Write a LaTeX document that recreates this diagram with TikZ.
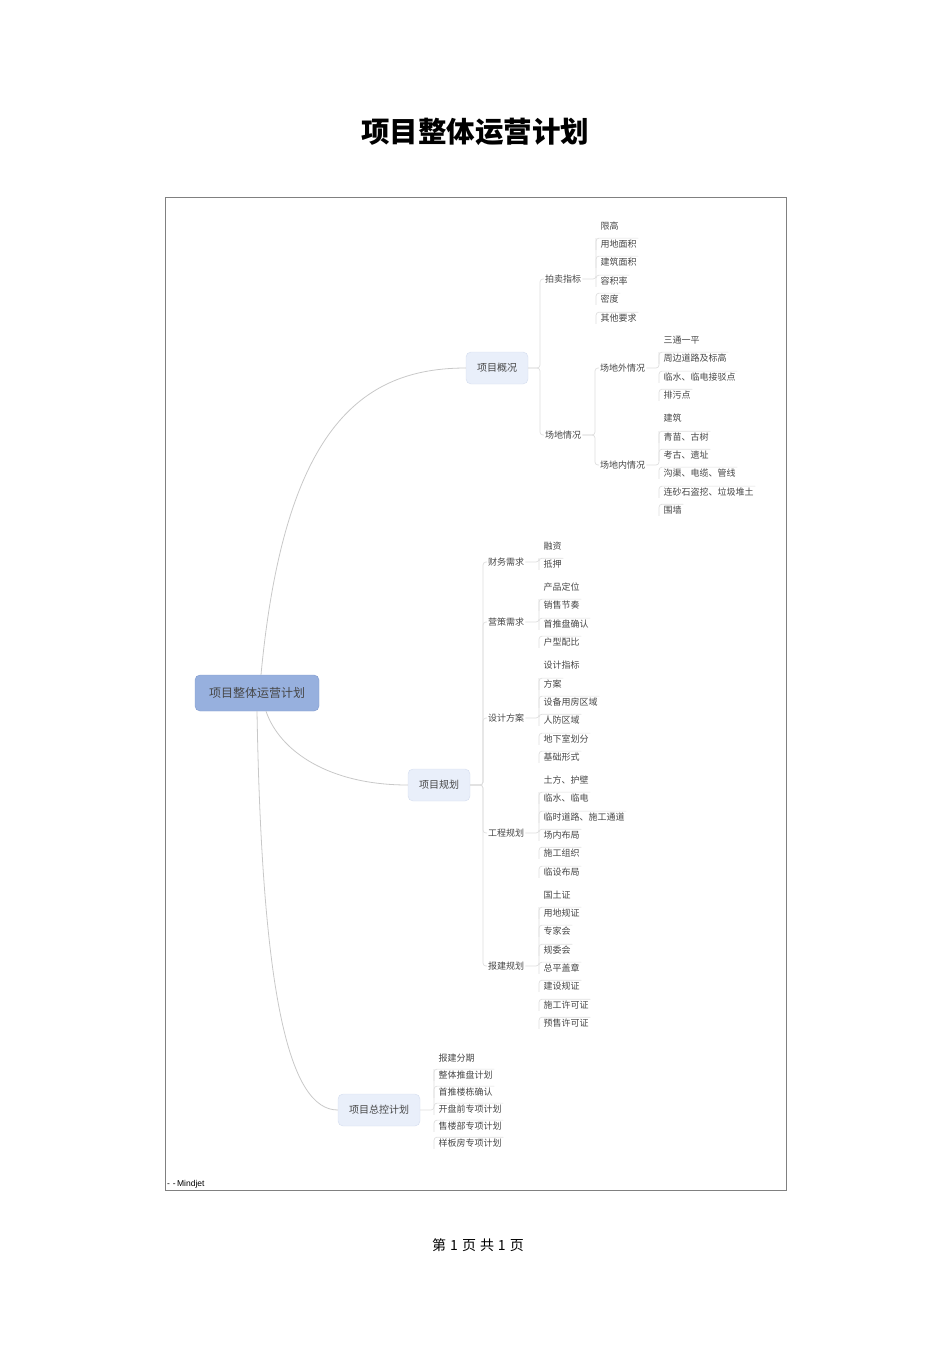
\documentclass[tikz,border=0pt]{standalone}
\usepackage{fontspec}
\setmainfont{Liberation Sans}
\newfontfamily\cjk{Noto Sans CJK SC}
\usetikzlibrary{positioning}
\definecolor{rootblue}{RGB}{151,176,222}
\definecolor{rootline}{RGB}{128,153,204}
\definecolor{boxblue}{RGB}{233,239,250}
\definecolor{boxline}{RGB}{212,221,238}
\definecolor{linkgray}{RGB}{200,200,200}
\definecolor{twiggray}{RGB}{222,222,222}
\definecolor{txtgray}{RGB}{70,70,70}

\begin{document}
\begin{tikzpicture}[x=1pt,y=-1pt,
		root/.style={draw=rootline,fill=rootblue,rounded corners=5pt,minimum height=36pt,inner xsep=14pt,font=\cjk\fontsize{12}{14}\selectfont,text=txtgray},
		branch/.style={draw=boxline,fill=boxblue,rounded corners=5pt,minimum height=32pt,inner xsep=11pt,font=\cjk\fontsize{10}{12}\selectfont,text=txtgray},
		topic/.style={anchor=west,inner sep=1pt,font=\cjk\fontsize{9}{11}\selectfont,text=txtgray},
		leaf/.style={anchor=west,inner sep=1.5pt,font=\cjk\fontsize{9}{11}\selectfont,text=txtgray},
		link/.style={draw=linkgray,line width=0.8pt},
		twig/.style={draw=twiggray,line width=0.7pt,rounded corners=3pt}]
			\useasboundingbox (0,0) rectangle (950,1346);
			% page title and frame
			\node (title) at (475,132) {\cjk\fontsize{28.5}{32}\selectfont\bfseries 项目整体运营计划};
			\draw[gray,line width=0.8pt] (165,197) rectangle (786,1190);
			\node[anchor=south west,inner sep=1pt,font=\fontsize{8.5}{9}\selectfont] (brand) at (166,1189) {-\,\,-\,Mindjet};
			\node (pageno) at (478,1245) {\cjk\fontsize{14}{16}\selectfont 第\hspace{4pt}1\hspace{4pt}页\hspace{4pt}共\hspace{4pt}1\hspace{4pt}页};
			
			% central topic and main branches
			\node[root] (root) at (257,693) {项目整体运营计划};
			\node[branch] (gk) at (497,368) {项目概况};
			\node[branch] (gh) at (439,785) {项目规划};
			\node[branch] (zk) at (379,1110) {项目总控计划};
			\draw[link] ([xshift=4pt]root.north) .. controls (284,430) and (360,368) .. (gk.west);
			\draw[link] ([xshift=9pt]root.south) .. controls (280,752) and (330,785) .. (gh.west);
			\draw[link] (root.south) .. controls (262,1000) and (290,1110) .. (zk.west);
			
			% subtopics
			\node[topic] (pm) at (544,279) {拍卖指标};
			\node[topic] (cd) at (544,435) {场地情况};
			\node[topic] (cw) at (599,368) {场地外情况};
			\node[topic] (cn) at (599,465) {场地内情况};
			\node[topic] (cwxq) at (487,562) {财务需求};
			\node[topic] (yc) at (487,622) {营策需求};
			\node[topic] (sj) at (487,718) {设计方案};
			\node[topic] (gc) at (487,833) {工程规划};
			\node[topic] (bj) at (487,966) {报建规划};
			\foreach \a/\b in {gk/pm,gk/cd,cd/cw,cd/cn,gh/cwxq,gh/yc,gh/sj,gh/gc,gh/bj}
				\draw[twig] (\a.east) -| ([xshift=-4pt]\b.west) -- (\b.west);
			
			% leaves
			\foreach \p/\x/\items in {
				pm/599/{226/限高,244/用地面积,262/建筑面积,281/容积率,299/密度,318/其他要求},
				cw/662/{340/三通一平,358/周边道路及标高,377/临水、临电接驳点,395/排污点},
				cn/662/{418/建筑,437/青苗、古树,455/考古、遗址,473/沟渠、电缆、管线,492/连砂石盗挖、垃圾堆土,510/围墙},
				cwxq/542/{546/融资,564/抵押},
				yc/542/{587/产品定位,605/销售节奏,624/首推盘确认,642/户型配比},
				sj/542/{665/设计指标,684/方案,702/设备用房区域,720/人防区域,739/地下室划分,757/基础形式},
				gc/542/{780/土方、护壁,798/临水、临电,817/临时道路、施工通道,835/场内布局,853/施工组织,872/临设布局},
				bj/542/{895/国土证,913/用地规证,931/专家会,950/规委会,968/总平盖章,986/建设规证,1005/施工许可证,1023/预售许可证},
				zk/437/{1058/报建分期,1075/整体推盘计划,1092/首推楼栋确认,1109/开盘前专项计划,1126/售楼部专项计划,1143/样板房专项计划}}
			{
				\foreach \y/\t [count=\i] in \items {
					\node[leaf] (\p-\i) at (\x,\y) {\t};
					\ifnum\i>1
						\draw[twig] ([xshift=-3pt]\p-\i.south west) |- (\p-\i.north east);
					\fi
				}
				\draw[twig] (\p.east) -| ([xshift=-3pt]\p-2.north west);
			}
			
		\end{tikzpicture}
\end{document}
